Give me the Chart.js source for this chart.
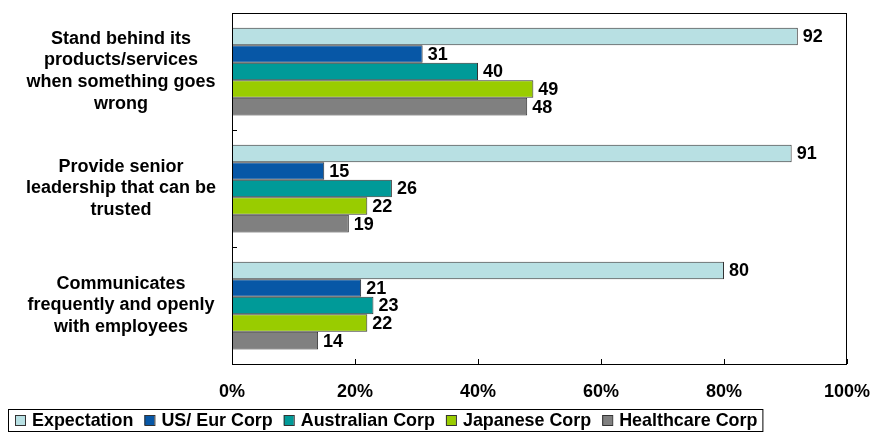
<!DOCTYPE html>
<html>
<head>
<meta charset="utf-8">
<script src="https://cdn.jsdelivr.net/npm/chart.js@4.4.1/dist/chart.umd.min.js"></script>
<style>
  html, body { margin: 0; padding: 0; background: #fff; }
  #wrap { width: 872px; height: 432px; }
</style>
</head>
<body>
<div id="wrap"><canvas id="chart" width="872" height="432"></canvas></div>
<script>
// ===== Data =====
const categories = [
  ['Stand behind its', 'products/services', 'when something goes', 'wrong'],
  ['Provide senior', 'leadership that can be', 'trusted'],
  ['Communicates', 'frequently and openly', 'with employees']
];
const seriesNames = ['Expectation', 'US/ Eur Corp', 'Australian Corp', 'Japanese Corp', 'Healthcare Corp'];
const expectation = [92, 91, 80];
const usEurCorp = [31, 15, 21];
const australianCorp = [40, 26, 23];
const japaneseCorp = [49, 22, 22];
const healthcareCorp = [48, 19, 14];
const xTicks = [0, 20, 40, 60, 80, 100];

const colors = ['#b8e0e3', '#0757a6', '#009a98', '#99cc00', '#808080'];
const FONT = '"Liberation Sans", Arial, sans-serif';

const seriesValues = [expectation, usEurCorp, australianCorp, japaneseCorp, healthcareCorp];

// ===== Plugins =====
// outline of the plot area plus the small inner tick marks
const frame = {
  id: 'frame',
  afterDatasetsDraw(chart) {
    const { ctx, chartArea: a, scales } = chart;
    ctx.save();
    ctx.strokeStyle = '#000';
    ctx.lineWidth = 1;
    ctx.strokeRect(a.left + 0.5, a.top + 0.5, a.right - a.left - 1, a.bottom - a.top);
    ctx.beginPath();
    xTicks.forEach(v => {
      const x = Math.round(scales.x.getPixelForValue(v)) + 0.5;
      ctx.moveTo(x, a.bottom);
      ctx.lineTo(x, a.bottom - 5);
    });
    for (let i = 0; i < categories.length - 1; i++) {
      const y = Math.round((scales.y.getPixelForTick(i) + scales.y.getPixelForTick(i + 1)) / 2) + 0.5;
      ctx.moveTo(a.left, y);
      ctx.lineTo(a.left + 5, y);
    }
    ctx.stroke();
    ctx.restore();
  }
};

// value printed at the end of each bar
const valueLabels = {
  id: 'valueLabels',
  afterDatasetsDraw(chart) {
    const { ctx } = chart;
    ctx.save();
    ctx.font = 'bold 18px ' + FONT;
    ctx.fillStyle = '#000';
    ctx.textAlign = 'left';
    ctx.textBaseline = 'middle';
    chart.data.datasets.forEach((ds, i) => {
      chart.getDatasetMeta(i).data.forEach((bar, j) => {
        ctx.fillText(ds.data[j], bar.x + 5, bar.y + 1);
      });
    });
    ctx.restore();
  }
};

// boxed legend along the bottom left
const boxLegend = {
  id: 'boxLegend',
  afterDraw(chart) {
    const { ctx } = chart;
    const cy = 420;
    ctx.save();
    ctx.font = 'bold 17.9px ' + FONT;
    ctx.textBaseline = 'middle';
    ctx.textAlign = 'left';
    let x = 15;
    chart.data.datasets.forEach(ds => {
      ctx.fillStyle = ds.backgroundColor;
      ctx.fillRect(x, cy - 5, 10, 10);
      ctx.strokeStyle = '#333';
      ctx.lineWidth = 1;
      ctx.strokeRect(x + 0.5, cy - 4.5, 10, 10);
      ctx.fillStyle = '#000';
      ctx.fillText(ds.label, x + 17, cy + 1);
      x += 17 + ctx.measureText(ds.label).width + 11;
    });
    ctx.strokeStyle = '#000';
    ctx.strokeRect(8.5, 409.5, x - 11 + 5 - 8, 22);
    ctx.restore();
  }
};

// ===== Chart =====
const ctx = document.getElementById('chart').getContext('2d');
new Chart(ctx, {
  type: 'bar',
  data: {
    labels: categories,
    datasets: seriesNames.map((name, i) => ({
      label: name,
      data: seriesValues[i],
      backgroundColor: colors[i],
      borderColor: '#333',
      borderWidth: 1,
      borderSkipped: false,
      categoryPercentage: 0.75,
      barPercentage: 1
    }))
  },
  options: {
    indexAxis: 'y',
    responsive: false,
    animation: false,
    layout: { padding: { top: 13, right: 25, left: 0, bottom: 0 } },
    plugins: {
      legend: { display: false },
      tooltip: { enabled: false }
    },
    scales: {
      x: {
        min: 0,
        max: 100,
        afterBuildTicks(scale) { scale.ticks = xTicks.map(v => ({ value: v })); },
        afterFit(scale) {
          scale.height = 68;
          scale.paddingLeft = 0;
          scale.paddingRight = 0;
        },
        grid: { display: false },
        border: { display: false },
        ticks: {
          padding: 9,
          color: '#000',
          font: { family: FONT, size: 18, weight: 'bold' },
          maxRotation: 0,
          callback: v => v + '%'
        }
      },
      y: {
        afterFit(scale) {
          scale.width = 232;
          scale.paddingTop = 0;
          scale.paddingBottom = 0;
        },
        grid: { display: false },
        border: { display: false },
        ticks: {
          crossAlign: 'center',
          padding: 8,
          color: '#000',
          font: { family: FONT, size: 18, weight: 'bold', lineHeight: 1.22 }
        }
      }
    }
  },
  plugins: [frame, valueLabels, boxLegend]
});
</script>
</body>
</html>
